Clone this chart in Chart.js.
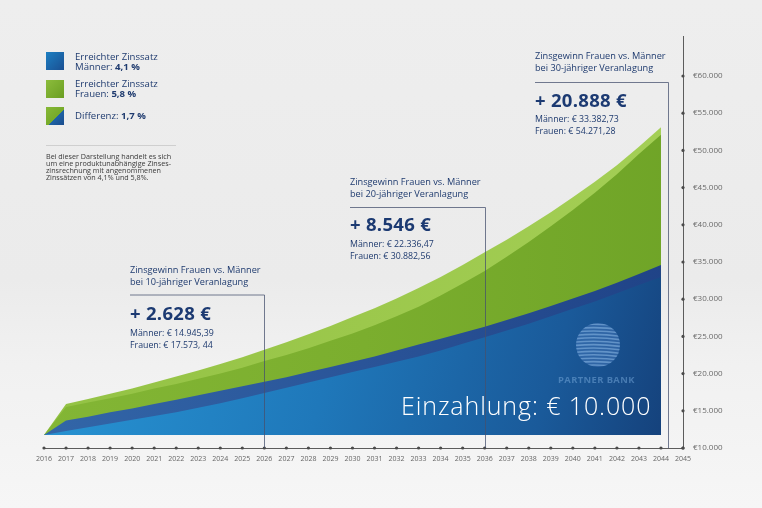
<!DOCTYPE html>
<html lang="de">
<head>
<meta charset="utf-8">
<script src="https://cdn.jsdelivr.net/npm/chart.js@4"></script>
<style>
  html,body{margin:0;padding:0;}
  body{width:762px;height:508px;overflow:hidden;position:relative;
    background:linear-gradient(180deg,#eeeeee 0%,#ebebeb 55%,#f1f1f1 72%,#f6f6f6 100%);
    font-family:"Open Sans","Liberation Sans",sans-serif;color:#1f3b6f;}
  #c{position:absolute;left:0;top:0;}
  .t{position:absolute;white-space:nowrap;}
  .sq{position:absolute;width:18px;height:18px;}
  .lg{font-size:9.6px;line-height:10px;}
  .ttl{font-size:9.2px;line-height:12px;}
  .big{font-size:18.5px;line-height:20px;font-weight:700;color:#1c3a72;letter-spacing:0.3px;}
  .det{font-size:8.8px;line-height:12px;}
</style>
</head>
<body>
<canvas id="c" width="762" height="508"></canvas>

<div class="sq" style="left:46px;top:52px;background:linear-gradient(135deg,#1d7fc2,#1a4f92);"></div>
<div class="t lg" style="left:75px;top:52px;">Erreichter Zinssatz<br>Männer: <b>4,1 %</b></div>
<div class="sq" style="left:46px;top:80px;background:linear-gradient(135deg,#8cbc3c,#6a9e22);"></div>
<div class="t lg" style="left:75px;top:79px;">Erreichter Zinssatz<br>Frauen: <b>5,8 %</b></div>
<div class="sq" style="left:46px;top:107px;background:linear-gradient(to bottom right,#86b836 0%,#76aa2a 56%,#1e63a6 56%,#1a4b8c 100%);"></div>
<div class="t lg" style="left:75px;top:111px;">Differenz: <b>1,7 %</b></div>
<div style="position:absolute;left:46px;top:145px;width:130px;height:1px;background:#cfcfcf;"></div>
<div class="t" style="left:46px;top:153px;font-size:7.2px;line-height:6.9px;color:#3a3a3a;">Bei dieser Darstellung handelt es sich<br>um eine produktunabhängige Zinses-<br>zinsrechnung mit angenommenen<br>Zinssätzen von 4,1% und 5,8%.</div>

<div class="t ttl" style="left:130px;top:264px;">Zinsgewinn Frauen vs. Männer<br>bei 10-jähriger Veranlagung</div>
<div class="t big" style="left:130px;top:303px;">+ 2.628 €</div>
<div class="t det" style="left:130px;top:327px;">Männer: € 14.945,39<br>Frauen: € 17.573, 44</div>

<div class="t ttl" style="left:350px;top:176px;">Zinsgewinn Frauen vs. Männer<br>bei 20-jähriger Veranlagung</div>
<div class="t big" style="left:350px;top:214px;">+ 8.546 €</div>
<div class="t det" style="left:350px;top:238px;">Männer: € 22.336,47<br>Frauen: € 30.882,56</div>

<div class="t ttl" style="left:535px;top:50px;">Zinsgewinn Frauen vs. Männer<br>bei 30-jähriger Veranlagung</div>
<div class="t big" style="left:535px;top:90px;">+ 20.888 €</div>
<div class="t det" style="left:535px;top:113px;">Männer: € 33.382,73<br>Frauen: € 54.271,28</div>

<div class="t" style="left:558px;top:374px;font-size:9.4px;line-height:12px;font-weight:700;letter-spacing:0.4px;color:rgba(120,170,220,0.5);">PARTNER BANK</div>
<div class="t" style="left:401px;top:390px;font-size:25px;line-height:30px;font-weight:300;letter-spacing:0.9px;color:#ffffff;">Einzahlung: € 10.000</div>

<script>
// ---- data ----
const years = [2016,2017,2018,2019,2020,2021,2022,2023,2024,2025,2026,2027,2028,2029,2030,2031,2032,2033,2034,2035,2036,2037,2038,2039,2040,2041,2042,2043,2044];
// green top (Frauen, back edge incl. light bevel)
const frauen = [11750,15900,16600,17300,18000,18800,19600,20400,21300,22200,23200,24200,25300,26400,27600,28800,30100,31500,33000,34600,36300,38000,39800,41700,43700,45800,48000,50500,53100];
// green front face top (below light bevel)
const frauenFront = [11750,15500,16100,16700,17300,18000,18600,19300,20000,20800,21700,22500,23400,24400,25400,26500,27700,29000,30500,32100,33800,35700,37700,39800,42000,44300,46800,49500,52100];
// dark blue band top (Männer, back edge)
const maennerBand = [11750,13700,14200,14800,15300,15900,16500,17100,17700,18300,18900,19500,20200,20900,21600,22300,23100,23900,24700,25500,26300,27200,28100,29100,30100,31100,32200,33400,34600];
// blue front face top (Männer)
const maenner = [11750,12300,12800,13300,13800,14300,14800,15400,16000,16700,17400,18100,18800,19500,20200,20900,21600,22300,23100,24000,24900,25800,26700,27700,28700,29700,30800,31900,33000];
const baseValue = 11750;               // bottom of the blue body
const yTicks = [10000,15000,20000,25000,30000,35000,40000,45000,50000,55000,60000];
const xTickYears = [2016,2017,2018,2019,2020,2021,2022,2023,2024,2025,2026,2027,2028,2029,2030,2031,2032,2033,2034,2035,2036,2037,2038,2039,2040,2041,2042,2043,2044,2045];
const annotYears = [2026, 2036, 2044.33];

const pts = arr => years.map((x,i)=>({x:x, y:arr[i]}));

function grad(ctx, stops, diag){
  const ch = ctx.chart, a = ch.chartArea;
  if(!a) return stops[0][1];
  const g = diag ? ch.ctx.createLinearGradient(a.left, a.top+200, a.right, a.bottom)
                 : ch.ctx.createLinearGradient(a.left, 0, a.right, 0);
  stops.forEach(s=>g.addColorStop(s[0], s[1]));
  return g;
}

const decor = {
  id:'decor',
  afterDatasetsDraw(chart){
    const c = chart.ctx, xs = chart.scales.x, ys = chart.scales.y;
    const a = chart.chartArea;
    c.save();
    // y axis extension upward
    c.strokeStyle = '#5c5c5c'; c.lineWidth = 1;
    c.beginPath(); c.moveTo(a.right+0.5, a.top); c.lineTo(a.right+0.5, 36); c.stroke();
    // axis dots
    c.fillStyle = '#4a4a4a';
    xTickYears.forEach(v=>{ c.beginPath(); c.arc(xs.getPixelForValue(v), a.bottom, 1.6, 0, Math.PI*2); c.fill(); });
    yTicks.forEach(v=>{ c.beginPath(); c.arc(a.right, ys.getPixelForValue(v), 1.6, 0, Math.PI*2); c.fill(); });
    // annotation frames
    const frames = [[130,295],[350,207.5],[535,82.5]];
    c.strokeStyle = 'rgba(70,80,110,0.75)'; c.lineWidth = 1;
    annotYears.forEach((yr,i)=>{
      const x = Math.round(xs.getPixelForValue(yr))+0.5;
      c.beginPath();
      c.moveTo(frames[i][0], frames[i][1]); c.lineTo(x, frames[i][1]);
      c.lineTo(x, a.bottom);
      c.stroke();
    });
    // logo
    const cx = 598, cy = 345, r = 22;
    c.beginPath(); c.arc(cx, cy, r, 0, Math.PI*2); c.closePath(); c.clip();
    c.fillStyle = 'rgba(70,120,185,0.5)'; c.fillRect(cx-r, cy-r, 2*r, 2*r);
    c.strokeStyle = 'rgba(140,185,230,0.55)'; c.lineWidth = 1.6;
    for(let yy = cy - r + 2; yy < cy + r; yy += 3.4){
      c.beginPath(); c.moveTo(cx-r, yy); c.quadraticCurveTo(cx, yy-2, cx+r, yy+1); c.stroke();
    }
    c.restore();
  }
};

const common = { borderWidth:0, pointRadius:0, tension:0, fill:{value:baseValue} };

new Chart(document.getElementById('c'), {
  type:'line',
  data:{ datasets:[
    Object.assign({ label:'Männer', data:pts(maenner),
      backgroundColor: ctx=>grad(ctx, [[0,'#2896d5'],[0.45,'#1f78ba'],[0.78,'#1a5a9a'],[1,'#143d76']], true) }, common),
    Object.assign({ label:'Band', data:pts(maennerBand),
      backgroundColor: ctx=>grad(ctx, [[0,'#3266a8'],[0.5,'#2a5498'],[1,'#1f4286']]) }, common),
    Object.assign({ label:'Frauen front', data:pts(frauenFront),
      backgroundColor: ctx=>grad(ctx, [[0,'#83b635'],[0.5,'#7bae2e'],[1,'#6fa427']]) }, common),
    Object.assign({ label:'Frauen', data:pts(frauen),
      backgroundColor: ctx=>grad(ctx, [[0,'#93c244'],[0.5,'#9cc84c'],[1,'#a4cf56']]) }, common)
  ]},
  options:{
    responsive:false, animation:false, devicePixelRatio:1,
    layout:{ padding:{ left:44, top:76, right:0, bottom:0 } },
    plugins:{ legend:{display:false}, tooltip:{enabled:false} },
    scales:{
      x:{ type:'linear', min:2016, max:2045, position:'bottom',
        afterFit:s=>{ s.height = 60; },
        grid:{ display:false, drawTicks:false }, border:{ display:true, color:'#5c5c5c', width:1 },
        ticks:{ stepSize:1, autoSkip:false, maxRotation:0, padding:7, color:'#666',
          font:{ family:'Open Sans', size:7 }, callback:v=>String(v) } },
      y:{ type:'linear', min:10000, max:60000, position:'right',
        afterFit:s=>{ s.width = 79; },
        grid:{ display:false, drawTicks:false }, border:{ display:true, color:'#5c5c5c', width:1 },
        ticks:{ stepSize:5000, padding:10, color:'#6a6a6a',
          font:{ family:'Open Sans', size:8 }, callback:v=>'€' + v.toLocaleString('de-DE') } }
    }
  },
  plugins:[decor]
});
</script>
</body>
</html>
